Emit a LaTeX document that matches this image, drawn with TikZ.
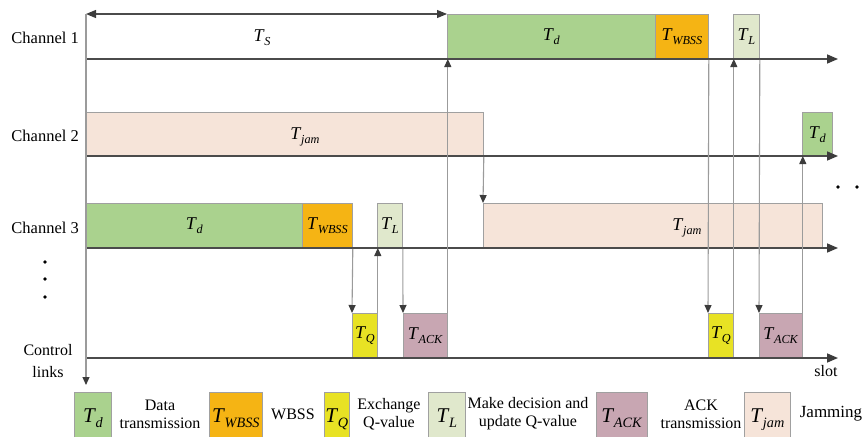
\documentclass[tikz,border=0pt]{standalone}
\usepackage{fontspec}
\setmainfont{Liberation Serif}
\usepackage{graphicx}
\usetikzlibrary{arrows.meta}

\definecolor{datagreen}{RGB}{170,210,142}
\definecolor{wbssorange}{RGB}{245,180,20}
\definecolor{qyellow}{RGB}{232,226,36}
\definecolor{lpale}{RGB}{224,232,204}
\definecolor{ackmauve}{RGB}{200,166,178}
\definecolor{jampeach}{RGB}{246,228,217}
\definecolor{boxline}{RGB}{160,160,160}
\definecolor{axisgrey}{RGB}{75,75,75}
\definecolor{linkgrey}{RGB}{155,155,155}
\definecolor{tipgrey}{RGB}{60,60,60}

% italic T with a smaller italic subscript
\newcommand{\Tsb}[1]{\textit{T}\kern-0.02em\raisebox{-0.5ex}{\scalebox{0.68}{\textit{#1}}}}

\begin{document}
\begin{tikzpicture}[x=1pt,y=-1pt,
  slotbox/.style={draw=boxline,line width=0.8pt,inner sep=0pt,anchor=north west,minimum height=45pt},
  lgbox/.style={draw=boxline,line width=0.8pt,inner sep=0pt,anchor=north west,minimum height=47pt,text depth=0pt,font=\fontsize{21}{24}\selectfont},
  tlabel/.style={font=\fontsize{18}{20}\selectfont,inner sep=0pt},
  chlabel/.style={font=\fontsize{16.5}{19}\selectfont,anchor=east,inner sep=0pt},
  lgtext/.style={font=\fontsize{16}{18}\selectfont,align=center,inner sep=0pt},
  axisline/.style={draw=axisgrey,line width=1.6pt,-{Triangle[width=9pt,length=11pt,color=tipgrey]}},
  link/.style={draw=linkgrey,line width=1.1pt,-{Triangle[width=7pt,length=8pt,color=tipgrey]}},
  dot/.style={fill=black,circle,inner sep=0pt,minimum size=3.8pt}
]
\useasboundingbox (0,0) rectangle (866,436);

% ---- slots on the channels ----
\node[slotbox,fill=datagreen,minimum width=208pt] (d1) at (447,14) {};
\node[slotbox,fill=wbssorange,minimum width=53pt] (wb1) at (655,14) {};
\node[slotbox,fill=lpale,minimum width=26pt] (l1) at (733,14) {};
\node[slotbox,fill=jampeach,minimum width=397pt,minimum height=44pt] (jam2) at (86,112) {};
\node[slotbox,fill=datagreen,minimum width=30pt,minimum height=44pt] (d2) at (802,112) {};
\node[slotbox,fill=datagreen,minimum width=216pt] (d3) at (86,203) {};
\node[slotbox,fill=wbssorange,minimum width=50pt] (wb3) at (302,203) {};
\node[slotbox,fill=lpale,minimum width=25pt] (l3) at (377,203) {};
\node[slotbox,fill=jampeach,minimum width=339pt] (jam3) at (483,203) {};
% ---- slots on the control link ----
\node[slotbox,fill=qyellow,minimum width=25pt] (q1) at (352,313) {};
\node[slotbox,fill=ackmauve,minimum width=44pt] (ack1) at (403,313) {};
\node[slotbox,fill=qyellow,minimum width=25pt] (q2) at (708,313) {};
\node[slotbox,fill=ackmauve,minimum width=43pt] (ack2) at (759,313) {};

% ---- slot labels ----
\node[tlabel] (ts) at (262,38) {\Tsb{S}};
\node[tlabel] at (d1.center) {\Tsb{d}};
\node[tlabel] at (wb1.center) {\Tsb{WBSS}};
\node[tlabel] at (l1.center) {\Tsb{L}};
\node[tlabel] at (305,137) {\Tsb{jam}};
\node[tlabel] at (d2.center) {\Tsb{d}};
\node[tlabel] at (d3.center) {\Tsb{d}};
\node[tlabel] at (wb3.center) {\Tsb{WBSS}};
\node[tlabel] at (l3.center) {\Tsb{L}};
\node[tlabel] at (687,228) {\Tsb{jam}};
\node[tlabel] at (q1.center) {\Tsb{Q}};
\node[tlabel] at (ack1.center) {\Tsb{ACK}};
\node[tlabel] at (q2.center) {\Tsb{Q}};
\node[tlabel] at (ack2.center) {\Tsb{ACK}};

% ---- axes ----
\coordinate (c1a) at (86,59);   \coordinate (c1b) at (838,59);
\coordinate (c2a) at (86,156);  \coordinate (c2b) at (838,156);
\coordinate (c3a) at (86,248);  \coordinate (c3b) at (838,248);
\coordinate (cla) at (86,358);  \coordinate (clb) at (838,358);
\coordinate (top) at (86,14);   \coordinate (bot) at (86,385);
\coordinate (tsend) at (447,14);

\draw[axisline] (c1a) -- (c1b);
\draw[axisline] (c2a) -- (c2b);
\draw[axisline] (c3a) -- (c3b);
\draw[axisline] (cla) -- (clb);

% time span of the sensing phase and the time reference line
\draw[draw=axisgrey,line width=1.1pt,{Triangle[width=8pt,length=10pt,color=tipgrey]}-{Triangle[width=8pt,length=10pt,color=tipgrey]}] (top) -- (tsend);
\draw[link] (top) -- (bot);

% ---- hand-over connectors ----
\draw[link] (ack1.north east) -- (ack1.north east |- c1a);
\draw[link] (jam2.south east) -- (jam3.north west);
\draw[link] (wb3.south east) -- (q1.north west);
\draw[link] (q1.north east) -- (q1.north east |- c3a);
\draw[link] (l3.south east) -- (ack1.north west);
\draw[link] (wb1.south east) -- (q2.north west);
\draw[link] (q2.north east) -- (q2.north east |- c1a);
\draw[link] (l1.south east) -- (ack2.north west);
\draw[link] (ack2.north east) -- (ack2.north east |- c2a);

% ---- row labels ----
\node[chlabel] (ch1) at (79,38) {Channel 1};
\node[chlabel] (ch2) at (79,136) {Channel 2};
\node[chlabel] (ch3) at (79,228) {Channel 3};
\node[lgtext,font=\fontsize{16}{22}\selectfont] (ctl) at (48,361) {Control\\links};
\node[lgtext] (slot) at (826,371) {slot};

% continuation dots
\node[dot] (v1) at (45,262) {};
\node[dot] (v2) at (45,279) {};
\node[dot] (v3) at (45,297) {};
\node[dot] (h1) at (838,187) {};
\node[dot] (h2) at (857,187) {};

% ---- legend ----
\node[lgbox,fill=datagreen,minimum width=37pt] (lgd) at (74,392) {\Tsb{d}};
\node[lgtext] (lgdt) at (160,414) {Data\\transmission};
\node[lgbox,fill=wbssorange,minimum width=53pt] (lgwb) at (209,392) {\Tsb{WBSS}};
\node[lgtext] (lgwbt) at (293,414) {WBSS};
\node[lgbox,fill=qyellow,minimum width=25pt] (lgq) at (324,392) {\Tsb{Q}};
\node[lgtext] (lgqt) at (389,414) {Exchange\\Q-value};
\node[lgbox,fill=lpale,minimum width=37pt] (lgl) at (428,392) {\Tsb{L}};
\node[lgtext] (lglt) at (528,414) {Make decision and\\update Q-value};
\node[lgbox,fill=ackmauve,minimum width=51pt] (lgack) at (596,392) {\Tsb{ACK}};
\node[lgtext] (lgackt) at (701,414) {ACK\\transmission};
\node[lgbox,fill=jampeach,minimum width=46pt] (lgjam) at (744,392) {\Tsb{jam}};
\node[lgtext,font=\fontsize{17}{19}\selectfont] (lgjamt) at (831,414) {Jamming};
\end{tikzpicture}
\end{document}
